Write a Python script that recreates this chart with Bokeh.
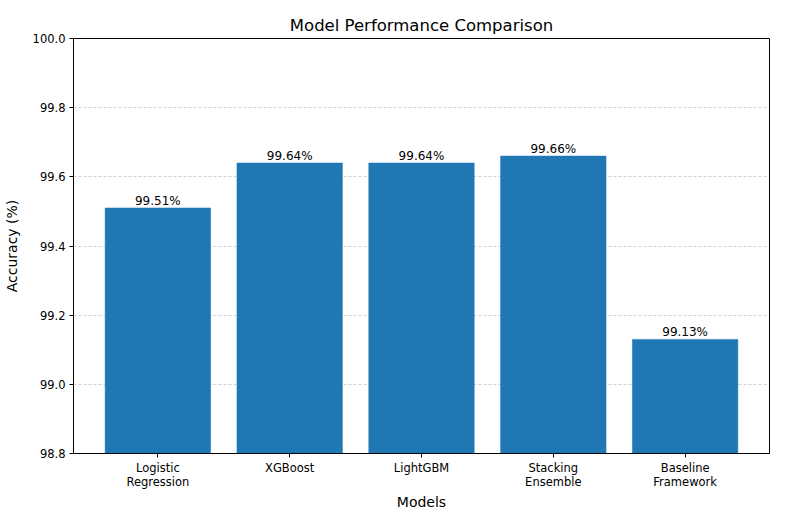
from bokeh.plotting import figure
from bokeh.models import FixedTicker, Range1d, ColumnDataSource
from bokeh.core.properties import value
from bokeh.embed import file_html
from bokeh.resources import INLINE

# Model accuracy results (%)
models = ["Logistic\nRegression", "XGBoost", "LightGBM", "Stacking\nEnsemble", "Baseline\nFramework"]
accuracy = [99.51, 99.64, 99.64, 99.66, 99.13]
y_ticks = [98.8, 99.0, 99.2, 99.4, 99.6, 99.8, 100.0]

FONT = "DejaVu Sans"
BAR_COLOR = "#1f77b4"

xs = list(range(len(models)))
baseline = 98.8

src = ColumnDataSource(dict(
    x=xs,
    top=accuracy,
    bottom=[baseline] * len(accuracy),
    label=[f"{v:.2f}%" for v in accuracy],
))

p = figure(
    width=803, height=515,
    output_backend="svg", toolbar_location=None,
    x_range=Range1d(-0.64, len(models) - 1 + 0.64),
    y_range=Range1d(98.8, 100.0),
    min_border_left=72, min_border_right=34,
    min_border_top=38, min_border_bottom=62,
    title="Model Performance Comparison",
)

# Title
p.title.align = "center"
p.title.text_font = FONT
p.title.text_font_size = "16.5px"
p.title.text_font_style = "normal"
p.title.text_color = "#000000"
p.title.offset = 0
p.title.standoff = 8

# Bars
p.vbar(x="x", top="top", bottom="bottom", width=0.8, source=src,
       fill_color=BAR_COLOR, line_color=BAR_COLOR, line_width=0.5)

# Value labels above bars
p.text(x="x", y="top", text="label", source=src,
       text_align="center", text_baseline="bottom",
       text_font=value(FONT), text_font_size="12px", text_color="#000000",
       y_offset=0)

# Grid: dashed horizontal only, underneath bars
p.xgrid.visible = False
p.ygrid.ticker = FixedTicker(ticks=y_ticks)
p.ygrid.grid_line_color = "#b0b0b0"
p.ygrid.grid_line_alpha = 0.7
p.ygrid.grid_line_dash = "3 2"
p.ygrid.grid_line_width = 0.8
p.ygrid.level = "underlay"

# Axes
p.xaxis.ticker = FixedTicker(ticks=xs)
p.xaxis.major_label_overrides = {i: m for i, m in enumerate(models)}
p.yaxis.ticker = FixedTicker(ticks=y_ticks)
p.yaxis.major_label_overrides = {t: f"{t:.1f}" for t in y_ticks}

for ax in (p.xaxis[0], p.yaxis[0]):
    ax.axis_line_color = "#000000"
    ax.axis_line_width = 1
    ax.major_tick_line_color = "#000000"
    ax.major_tick_out = 4
    ax.major_tick_in = 0
    ax.minor_tick_line_color = None
    ax.major_label_text_font = FONT
    ax.major_label_text_font_size = "11.5px"
    ax.major_label_text_color = "#000000"
    ax.major_label_text_line_height = 1.0
    ax.axis_label_text_font = FONT
    ax.axis_label_text_font_size = "14px"
    ax.axis_label_text_font_style = "normal"
    ax.axis_label_text_color = "#000000"

p.xaxis.axis_label = "Models"
p.yaxis.axis_label = "Accuracy (%)"
p.xaxis.major_label_standoff = 3
p.yaxis.major_label_standoff = 4
p.xaxis.axis_label_standoff = 2
p.yaxis.axis_label_standoff = 10

p.outline_line_color = "#000000"
p.outline_line_width = 1
p.background_fill_color = "white"
p.border_fill_color = "white"

open("out.html", "w").write(file_html(p, INLINE))
